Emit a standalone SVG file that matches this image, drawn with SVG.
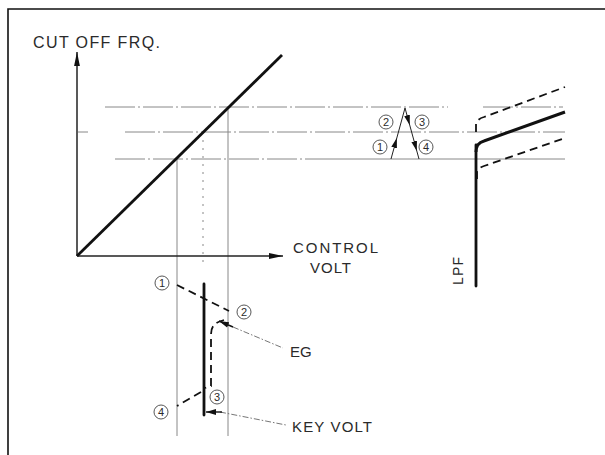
<svg xmlns="http://www.w3.org/2000/svg" width="605" height="455" viewBox="0 0 605 455">
<defs>
<marker id="ax" markerUnits="userSpaceOnUse" markerWidth="14" markerHeight="7" refX="14" refY="3.5" orient="auto"><path d="M0,0.6 L14,3.5 L0,6.4 Z" fill="#111"/></marker>
<marker id="ah" markerUnits="userSpaceOnUse" markerWidth="10" markerHeight="7" refX="10" refY="3.5" orient="auto"><path d="M0,0.6 L10,3.5 L0,6.4 Z" fill="#111"/></marker>
</defs>
<style>
.t{font-family:"Liberation Sans",Arial,sans-serif;fill:#2a2a2a}
.ref{stroke:#888;stroke-width:1;fill:none}
.dd{stroke-dasharray:30 3 2 3}
.lead{stroke:#666;stroke-width:0.9;stroke-dasharray:6 2 1.5 2;fill:none}
.thick{stroke:#111;stroke-width:2.8;fill:none;stroke-linecap:round}
.dash{stroke:#111;stroke-width:1.8;fill:none;stroke-dasharray:8 5}
.thin{stroke:#222;stroke-width:1;fill:none}
.num circle{fill:none;stroke:#444;stroke-width:0.9}
.num text{font-family:"Liberation Sans",Arial,sans-serif;font-size:11px;text-anchor:middle;fill:#2a2a2a}
</style>

<g id="frame">
<path d="M8,455 L8,9 L605,9" stroke="#111" stroke-width="1.6" fill="none"/>
</g>

<g id="reference-lines">
<line class="ref dd" x1="105" y1="107" x2="448" y2="107"/>
<line class="ref dd" x1="483" y1="107" x2="563" y2="107"/>
<line class="ref" x1="78" y1="132" x2="88" y2="132"/>
<line class="ref dd" x1="125" y1="132" x2="565" y2="132"/>
<line class="ref dd" x1="115" y1="159" x2="330" y2="159"/>
<line class="ref" x1="330" y1="159" x2="565" y2="159"/>
<line class="ref" x1="177" y1="159" x2="177" y2="436"/>
<line class="ref" x1="228" y1="107" x2="228" y2="436"/>
<line class="ref" x1="203" y1="132" x2="203" y2="262" stroke-dasharray="2 6"/>
</g>

<g id="graph">
<line x1="77" y1="256" x2="77" y2="52" stroke="#222" stroke-width="1.5" marker-end="url(#ax)"/>
<line x1="77" y1="256" x2="283" y2="256" stroke="#222" stroke-width="1.5" marker-end="url(#ax)"/>
<line x1="77" y1="256" x2="282" y2="55" stroke="#111" stroke-width="2.8"/>
<text class="t" x="33" y="48" font-size="16" textLength="127" lengthAdjust="spacing">CUT OFF FRQ.</text>
<text class="t" x="293" y="253" font-size="15" textLength="85" lengthAdjust="spacing">CONTROL</text>
<text class="t" x="310" y="273" font-size="15" textLength="41" lengthAdjust="spacing">VOLT</text>
</g>

<g id="eg-envelope">
<line class="thick" x1="204" y1="284" x2="204" y2="415"/>
<path class="dash" d="M177,285 L229,311"/>
<path class="dash" d="M224,320 C216,322 211,325 211,335 L211,386 L205,388"/>
<path class="dash" d="M201,392 L177,406"/>
<g class="num"><circle cx="162" cy="283" r="7"/><text x="162" y="287">1</text></g>
<g class="num"><circle cx="244" cy="312" r="7"/><text x="244" y="316">2</text></g>
<g class="num"><circle cx="217" cy="397" r="7"/><text x="217" y="401">3</text></g>
<g class="num"><circle cx="161" cy="412" r="7"/><text x="161" y="416">4</text></g>
</g>

<g id="eg-label">
<line class="lead" x1="233" y1="327" x2="283" y2="348"/>
<line x1="233" y1="327" x2="219" y2="321" stroke="#111" stroke-width="1.4" marker-end="url(#ah)"/>
<text class="t" x="290" y="357" font-size="15">EG</text>
</g>

<g id="keyvolt-label">
<line class="lead" x1="220" y1="412" x2="286" y2="425"/>
<line x1="222" y1="412" x2="206" y2="412" stroke="#111" stroke-width="1.4" marker-end="url(#ah)"/>
<text class="t" x="292" y="432" font-size="15" textLength="80" lengthAdjust="spacing">KEY VOLT</text>
</g>

<g id="cutoff-motion">
<line class="thin" x1="391" y1="159" x2="396.8" y2="138" marker-end="url(#ah)"/>
<line class="thin" x1="396.8" y1="138" x2="405" y2="108"/>
<line class="thin" x1="405" y1="108" x2="409.7" y2="125" marker-end="url(#ah)"/>
<line class="thin" x1="409.7" y1="125" x2="416.8" y2="151" marker-end="url(#ah)"/>
<line class="thin" x1="416.8" y1="151" x2="419" y2="159"/>
<g class="num"><circle cx="386" cy="122" r="7"/><text x="386" y="126">2</text></g>
<g class="num"><circle cx="422" cy="122" r="7"/><text x="422" y="126">3</text></g>
<g class="num"><circle cx="380" cy="147" r="7"/><text x="380" y="151">1</text></g>
<g class="num"><circle cx="426" cy="147" r="7"/><text x="426" y="151">4</text></g>
</g>

<g id="lpf">
<line class="thick" x1="476" y1="145" x2="476" y2="286"/>
<path d="M476,152 Q476,143 484,141 L565,112" stroke="#111" stroke-width="3" fill="none"/>
<path class="dash" d="M476,132 L476,124 Q477,119 484,117 L565,87" stroke-dasharray="10 6"/>
<path class="dash" d="M477,179 L477,172 Q478,168 484,166 L565,138" stroke-dasharray="10 6"/>
<text class="t" transform="translate(463,285) rotate(-90)" font-size="14" textLength="28" lengthAdjust="spacing">LPF</text>
</g>
</svg>
